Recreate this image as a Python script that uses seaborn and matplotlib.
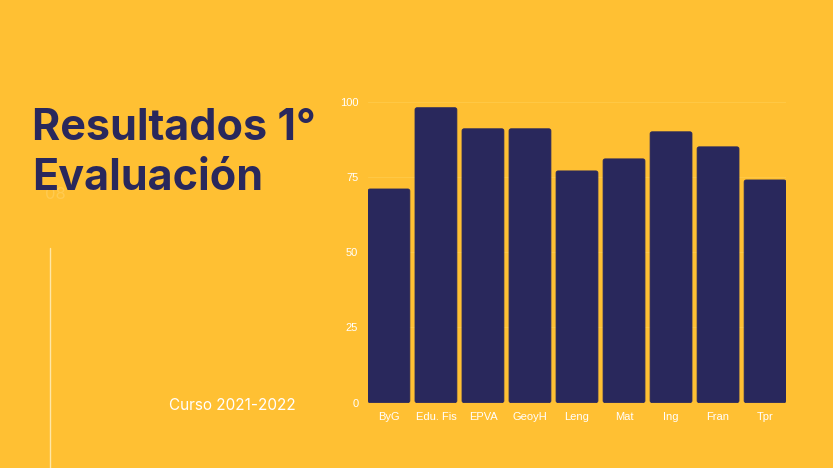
import matplotlib
matplotlib.use("Agg")
import matplotlib.pyplot as plt
from matplotlib.patches import FancyBboxPatch
import seaborn as sns
import pandas as pd

categories = ["ByG", "Edu. Fis", "EPVA", "GeoyH", "Leng", "Mat", "Ing", "Fran", "Tpr"]
values = [71, 98, 91, 91, 77, 81, 90, 85, 74]
y_ticks = [0, 25, 50, 75, 100]

BG = "#FFC033"
NAVY = "#29285C"

sns.set_theme(style="white")
plt.rcParams["font.family"] = ["Liberation Sans", "DejaVu Sans"]

fig = plt.figure(figsize=(8.33, 4.68), dpi=100)
fig.patch.set_facecolor(BG)

ax = fig.add_axes([368/833, 65.3/468, 418/833, 301/468])
ax.set_facecolor(BG)
df = pd.DataFrame({"cat": categories, "val": values})
sns.barplot(data=df, x="cat", y="val", color=NAVY, saturation=1, width=0.89, ax=ax,
            edgecolor=NAVY, linewidth=0.6)
# slightly rounded bar corners, derived from seaborn's bars
for p in list(ax.patches):
    x, y, w, h = p.get_x(), p.get_y(), p.get_width(), p.get_height()
    fb = FancyBboxPatch((x, y), w, h, boxstyle="round,pad=0,rounding_size=0.045",
                        mutation_aspect=15, facecolor=NAVY, edgecolor=NAVY, linewidth=0.6,
                        zorder=p.get_zorder())
    p.set_visible(False)
    ax.add_patch(fb)
ax.set_xlim(-0.445, len(categories) - 0.555)
ax.set_ylim(0, 100)
ax.set_yticks(y_ticks)
ax.set_xlabel("")
ax.set_ylabel("")
for s in ax.spines.values():
    s.set_visible(False)
ax.grid(axis="y", color="#FFC845", linewidth=0.8)
ax.set_axisbelow(True)
ax.tick_params(axis="both", length=0, colors="white", labelsize=8)
ax.tick_params(axis="y", pad=7)
ax.tick_params(axis="x", pad=7)

# faint background text
fig.text(45/833, 1 - 194/468, "08", color="#FFCA50", fontsize=12, va="center", ha="left",
         family=["Inter", "DejaVu Sans"])
# Title
fig.text(32/833, 1 - 140/468, "Resultados 1°", color=NAVY, fontsize=31, fontweight="bold",
         family=["Inter", "DejaVu Sans"], va="baseline", ha="left")
fig.text(32/833, 1 - 190/468, "Evaluación", color=NAVY, fontsize=31, fontweight="bold",
         family=["Inter", "DejaVu Sans"], va="baseline", ha="left")
# subtitle
fig.text(169/833, 1 - 405/468, "Curso 2021-2022", color="white", fontsize=11,
         family=["Inter", "DejaVu Sans"], va="center", ha="left")
# vertical line
fig.add_artist(plt.Line2D([49.5/833, 49.5/833], [0, 1 - 248/468], color="#FFE7A6", linewidth=1))

fig.savefig("out.png", dpi=100, facecolor=BG)
